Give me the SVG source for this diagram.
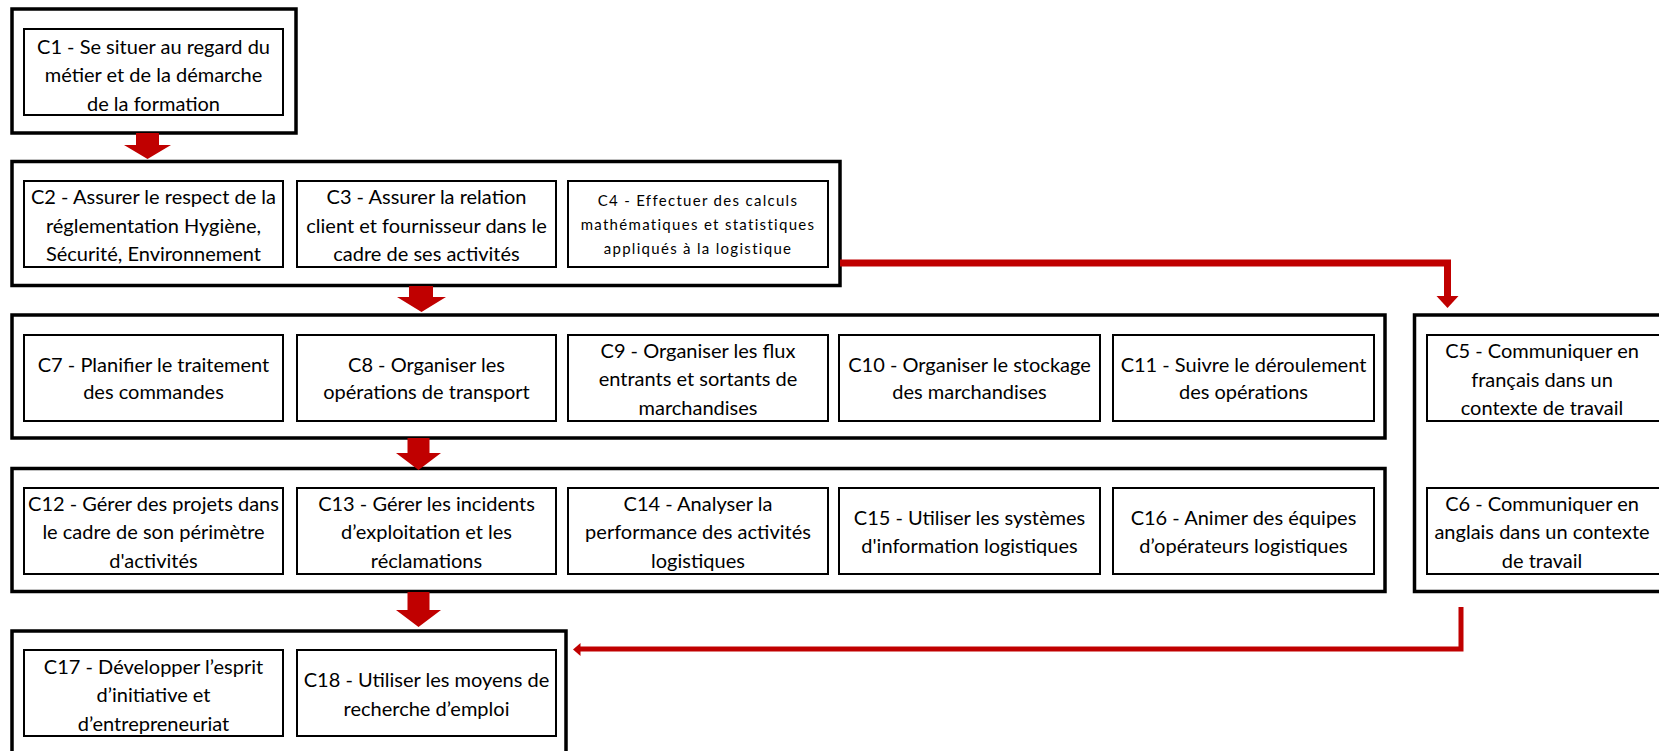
<svg xmlns="http://www.w3.org/2000/svg" width="1659" height="751" viewBox="0 0 1659 751">
<style>
.outer{fill:none;stroke:#000;stroke-width:3.5}
.inner{fill:#fff;stroke:#000;stroke-width:2}
text{font-family:Lato,"Liberation Sans",sans-serif;font-size:20px;fill:#000;text-anchor:middle;dominant-baseline:central}
.sm{font-size:15px;letter-spacing:1.3px}
.block{fill:#C00000}
.red{fill:none;stroke:#C00000}
</style>
<rect width="1659" height="751" fill="#fff"/>
<g id="containers">
<rect class="outer" x="12" y="9" width="284" height="124"/>
<rect class="outer" x="12" y="161.5" width="828" height="124"/>
<rect class="outer" x="12" y="315" width="1373" height="123"/>
<rect class="outer" x="12" y="468.5" width="1373" height="123"/>
<path class="outer" d="M12,770 V631 H566 V770"/>
<path class="outer" d="M1680,315 H1414.5 V591.5 H1680"/>
</g>
<g id="connectors">
<polygon class="block" points="136,133 159,133 159,145 171,145 147.5,159 124,145 136,145"/>
<polygon class="block" points="409,286 433,286 433,297 446,297 421.5,312 397,297 409,297"/>
<polygon class="block" points="407.5,438 429.5,438 429.5,453 441,453 418.5,470 396,453 407.5,453"/>
<polygon class="block" points="407.5,592 429.5,592 429.5,610 441,610 418.5,627 396,610 407.5,610"/>
<path class="red" stroke-width="7" d="M840,263 H1447.5 V297"/>
<polygon class="block" points="1436.5,296 1458.5,296 1447.5,308"/>
<path class="red" stroke-width="5" d="M1461,607 V649 H578"/>
<polygon class="block" points="573,649.5 580.5,643 580.5,656"/>
</g>
<g id="C1"><rect class="inner" x="24" y="29" width="259" height="86"/>
<text x="153.5" y="45.5">C1 - Se situer au regard du</text><text x="153.5" y="74">métier et de la démarche</text><text x="153.5" y="102.5">de la formation</text></g>
<g id="C2"><rect class="inner" x="24" y="181" width="259" height="86"/>
<text x="153.5" y="196">C2 - Assurer le respect de la</text><text x="153.5" y="224.5">réglementation Hygiène,</text><text x="153.5" y="253">Sécurité, Environnement</text></g>
<g id="C3"><rect class="inner" x="297" y="181" width="259" height="86"/>
<text x="426.5" y="196">C3 - Assurer la relation</text><text x="426.5" y="224.5">client et fournisseur dans le</text><text x="426.5" y="253">cadre de ses activités</text></g>
<g id="C4"><rect class="inner" x="568" y="181" width="260" height="86"/>
<text class="sm" x="698" y="200">C4 - Effectuer des calculs</text><text class="sm" x="698" y="224">mathématiques et statistiques</text><text class="sm" x="698" y="247.5">appliqués à la logistique</text></g>
<g id="C7"><rect class="inner" x="24" y="335" width="259" height="86"/>
<text x="153.5" y="363.5">C7 - Planifier le traitement</text><text x="153.5" y="391">des commandes</text></g>
<g id="C8"><rect class="inner" x="297" y="335" width="259" height="86"/>
<text x="426.5" y="363.5">C8 - Organiser les</text><text x="426.5" y="391">opérations de transport</text></g>
<g id="C9"><rect class="inner" x="568" y="335" width="260" height="86"/>
<text x="698" y="349.5">C9 - Organiser les flux</text><text x="698" y="378">entrants et sortants de</text><text x="698" y="406.5">marchandises</text></g>
<g id="C10"><rect class="inner" x="839" y="335" width="261" height="86"/>
<text x="969.5" y="363.5">C10 - Organiser le stockage</text><text x="969.5" y="391">des marchandises</text></g>
<g id="C11"><rect class="inner" x="1113" y="335" width="261" height="86"/>
<text x="1243.5" y="363.5">C11 - Suivre le déroulement</text><text x="1243.5" y="391">des opérations</text></g>
<g id="C5"><rect class="inner" x="1427" y="335" width="250" height="86"/>
<text x="1542" y="350">C5 - Communiquer en</text><text x="1542" y="378.5">français dans un</text><text x="1542" y="407">contexte de travail</text></g>
<g id="C12"><rect class="inner" x="24" y="488" width="259" height="86"/>
<text x="153.5" y="502.5">C12 - Gérer des projets dans</text><text x="153.5" y="531">le cadre de son périmètre</text><text x="153.5" y="559.5">d'activités</text></g>
<g id="C13"><rect class="inner" x="297" y="488" width="259" height="86"/>
<text x="426.5" y="502.5">C13 - Gérer les incidents</text><text x="426.5" y="531">d’exploitation et les</text><text x="426.5" y="559.5">réclamations</text></g>
<g id="C14"><rect class="inner" x="568" y="488" width="260" height="86"/>
<text x="698" y="502.5">C14 - Analyser la</text><text x="698" y="531">performance des activités</text><text x="698" y="559.5">logistiques</text></g>
<g id="C15"><rect class="inner" x="839" y="488" width="261" height="86"/>
<text x="969.5" y="517">C15 - Utiliser les systèmes</text><text x="969.5" y="545">d'information logistiques</text></g>
<g id="C16"><rect class="inner" x="1113" y="488" width="261" height="86"/>
<text x="1243.5" y="517">C16 - Animer des équipes</text><text x="1243.5" y="545">d’opérateurs logistiques</text></g>
<g id="C6"><rect class="inner" x="1427" y="488" width="250" height="86"/>
<text x="1542" y="502.5">C6 - Communiquer en</text><text x="1542" y="531">anglais dans un contexte</text><text x="1542" y="559.5">de travail</text></g>
<g id="C17"><rect class="inner" x="24" y="650" width="259" height="86"/>
<text x="153.5" y="665.5">C17 - Développer l’esprit</text><text x="153.5" y="694">d’initiative et</text><text x="153.5" y="722.5">d’entrepreneuriat</text></g>
<g id="C18"><rect class="inner" x="297" y="650" width="259" height="86"/>
<text x="426.5" y="679">C18 - Utiliser les moyens de</text><text x="426.5" y="708">recherche d’emploi</text></g>
</svg>
